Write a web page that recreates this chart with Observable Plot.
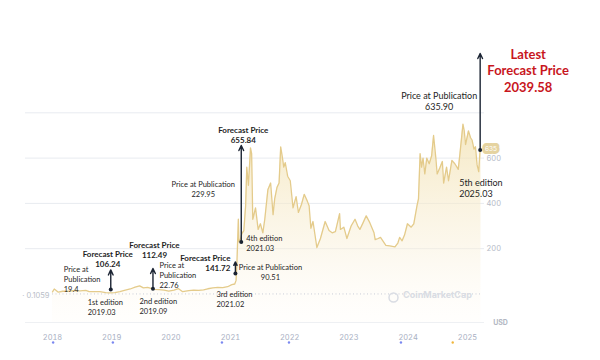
<!DOCTYPE html>
<html><head><meta charset="utf-8">
<script src="https://cdn.jsdelivr.net/npm/d3@7"></script>
<script src="https://cdn.jsdelivr.net/npm/@observablehq/plot@0.6"></script>
<style>body{margin:0;background:#fff}</style>
</head><body><div id="chart"></div>
<script>
// ---- price series ----
const priceDates = ["2018-01-01","2018-01-12","2018-02-06","2018-03-05","2018-04-15","2018-05-05","2018-06-20","2018-07-25","2018-08-15","2018-09-15","2018-10-20","2018-11-25","2018-12-15",
"2019-01-20","2019-02-20","2019-03-20","2019-04-25","2019-05-25","2019-06-22","2019-07-15","2019-08-10","2019-09-20","2019-10-20","2019-11-20","2019-12-18",
"2020-01-20","2020-02-15","2020-03-13","2020-04-20","2020-05-20","2020-06-20","2020-07-20","2020-08-15","2020-09-15","2020-10-15","2020-11-15","2020-12-15",
"2021-01-10","2021-01-28","2021-02-05","2021-02-10","2021-02-19","2021-02-23","2021-03-03","2021-03-12","2021-03-25","2021-04-05","2021-04-12","2021-04-22","2021-04-30","2021-05-05","2021-05-12","2021-05-19","2021-05-26","2021-06-05","2021-06-21","2021-07-05","2021-07-20","2021-08-01","2021-08-20","2021-09-06","2021-09-21","2021-10-01","2021-10-15","2021-10-28","2021-11-07","2021-11-16","2021-11-26","2021-12-05","2021-12-20",
"2022-01-05","2022-01-22","2022-02-10","2022-02-24","2022-03-15","2022-04-01","2022-04-20","2022-05-01","2022-05-12","2022-05-25","2022-06-18","2022-07-10","2022-08-08","2022-09-01","2022-09-20","2022-10-10","2022-11-05","2022-11-10","2022-12-01","2022-12-20",
"2023-01-15","2023-02-08","2023-02-25","2023-03-10","2023-03-30","2023-04-18","2023-05-10","2023-06-05","2023-06-12","2023-07-01","2023-07-15","2023-08-17","2023-09-10","2023-10-12","2023-10-30","2023-11-10","2023-11-25","2023-12-10","2023-12-28",
"2024-01-20","2024-02-05","2024-02-25","2024-03-05","2024-03-15","2024-03-24","2024-04-02","2024-04-13","2024-04-25","2024-05-10","2024-05-25","2024-06-06","2024-06-20","2024-06-28","2024-07-16","2024-07-30","2024-08-07","2024-08-25","2024-09-06","2024-09-27","2024-10-15","2024-10-28","2024-11-05","2024-11-17","2024-12-04","2024-12-12","2024-12-20",
"2025-01-07","2025-01-20","2025-01-29","2025-02-10","2025-02-19","2025-03-01","2025-03-11","2025-03-20","2025-03-25"];
const priceValues = [9,22,8,12,12,15,14,16,10,10,10,6,5,
6,10,16,22,30,36,27,29,20,19,17,13,
17,24,10,15,17,16,18,23,27,29,28,32,
41,44,60,130,330,230,240,265,280,390,560,480,580,645,620,330,350,380,285,310,270,330,460,490,350,420,470,490,650,610,560,580,520,
500,380,430,360,395,440,410,390,290,320,205,245,320,280,270,275,355,285,295,245,
300,330,300,285,315,345,315,270,240,245,250,215,212,208,225,250,235,260,310,
295,310,390,420,620,560,600,530,600,575,610,700,600,530,560,585,490,560,500,590,575,560,550,630,750,720,660,
720,690,680,640,650,570,540,640,635];
const minPrice = 0.1059;

// ---- report editions ----
const editionNames = ["1st edition","2nd edition","3rd edition","4th edition","5th edition"];
const editionCodes = ["2019.03","2019.09","2021.02","2021.03","2025.03"];
const editionDates = ["2018-12-26","2019-09-12","2021-02-01","2021-03-09","2025-03-20"];
const pubPrices = [19.4, 22.76, 90.51, 229.95, 635.90];
const pubLabels = ["19.4","22.76","90.51","229.95","635.90"];
const forecastPrices = [106.24, 112.49, 141.72, 655.84, 2039.58];
const forecastLabels = ["106.24","112.49","141.72","655.84","2039.58"];

// ---- axes ----
const yearTicks = ["2018","2019","2020","2021","2022","2023","2024","2025"];
const yTickValues = [200, 400, 600];
const gridValues = [200, 400, 600, 800];
const eventDates = ["2018-01-05","2019-01-08","2020-11-10","2021-12-28","2023-11-18","2024-10-02"];
const eventColors = ["#7b88f0","#7b88f0","#7b88f0","#7b88f0","#7b88f0","#f0b53a"];

const yFloor = -126, yCeil = 1062;

const prices = priceDates.map((d, i) => ({date: new Date(d), price: priceValues[i]}));
const editions = editionDates.map((d, i) => ({
  date: new Date(d), pub: pubPrices[i], fc: forecastPrices[i], top: Math.min(forecastPrices[i], yCeil),
  name: editionNames[i], code: editionCodes[i], pubLabel: pubLabels[i], fcLabel: forecastLabels[i]
}));
const last = prices[prices.length - 1];
const events = eventDates.map((d, i) => ({date: new Date(d), color: eventColors[i]}));

const ink = "#1e1e1e", arrowInk = "#1b2433";
const small = {fontFamily: "Lato", fontSize: 7.5, fill: ink, lineHeight: 1.33, lineAnchor: "middle"};
const bold = {fontFamily: "Lato", fontSize: 8, fontWeight: "bold", fill: ink, lineHeight: 1.3, lineAnchor: "middle"};

function lab(i, text, yField, dx, dy, base, extra = {}) {
  return Plot.text([editions[i]], {x: "date", y: yField, text: () => text, dx, dy, ...base, ...extra});
}
const e = editions;

const svg = Plot.plot({
  width: 600, height: 360,
  marginLeft: 25, marginRight: 116, marginTop: 20, marginBottom: 30,
  x: {type: "utc", domain: [new Date("2018-01-01"), new Date("2025-01-01")], range: [52, 467]},
  y: {domain: [yFloor, yCeil], range: [322, 53]},
  marks: [
    Plot.gridY(gridValues, {stroke: "#e8ebf0", strokeOpacity: 1}),
    Plot.ruleY([yFloor], {stroke: "#eef0f3"}),
    Plot.areaY(prices, {x: "date", y1: yFloor, y2: "price", fill: "url(#goldFill)", curve: "linear"}),
    Plot.ruleY([minPrice], {x1: prices[0].date, x2: last.date, stroke: "#c9ced8", strokeDasharray: "1,2.5"}),
    Plot.text([minPrice], {x: prices[0].date, y: d => d, text: d => "· " + d, textAnchor: "end", dx: -3, dy: 2, fill: "#b9bec8", fontSize: 7.5, fontFamily: "Inter"}),
    Plot.lineY(prices, {x: "date", y: "price", stroke: "#e4cb8b", strokeWidth: 1.3}),
    Plot.text(["CoinMarketCap"], {frameAnchor: "bottom-right", text: d => d, textAnchor: "middle", dx: -47, dy: -33, fill: "#d9dce3", fontSize: 9, fontWeight: "bold", fontFamily: "Inter"}),
    Plot.dot([0], {frameAnchor: "bottom-right", dx: -91, dy: -33, r: 4.5, stroke: "#d9dce3", strokeWidth: 1.5}),
    Plot.text(["USD"], {frameAnchor: "bottom-right", text: d => d, textAnchor: "middle", dx: 16, dy: -6, fill: "#b3b8c3", fontSize: 7, fontWeight: "bold", fontFamily: "Inter"}),
    Plot.axisX({ticks: yearTicks.map(y => new Date(y + "-01-01")), tickFormat: d3.utcFormat("%Y"), tickSize: 0, tickPadding: 4, fontSize: 7.5, fill: "#a9b0c3", fontFamily: "Inter", label: null}),
    Plot.axisY({anchor: "right", ticks: yTickValues, tickSize: 0, tickPadding: 2, fontSize: 7.5, fill: "#b5bac6", fontFamily: "Inter", label: null}),
    Plot.dot(events, {x: "date", frameAnchor: "bottom", dy: 12, r: 1.2, fill: "color"}),
    // price badge
    Plot.text([last], {x: "date", y: "price", text: d => d3.format(".0f")(d.price), dx: 10, dy: -1, fill: "white", stroke: "#e5d3a0", strokeWidth: 6, strokeLinejoin: "round", fontSize: 6.5, fontFamily: "Inter"}),
    // arrows
    Plot.arrow(editions, {x: "date", y1: "pub", y2: "top", stroke: arrowInk, strokeWidth: 1.4, headLength: 6, headAngle: 50}),
    Plot.dot(editions, {x: "date", y: "pub", r: 2, fill: arrowInk}),
    // edition 1
    lab(0, "Price at\nPublication\n" + e[0].pubLabel, "pub", -47, -11, small, {textAnchor: "start"}),
    lab(0, "Forecast Price\n" + e[0].fcLabel, "fc", -3, -11.4, bold),
    lab(0, e[0].name + "\n" + e[0].code, "pub", -23, 17.4, small, {textAnchor: "start"}),
    // edition 2
    lab(1, "Price at\nPublication\n" + e[1].pubLabel, "pub", 6.5, -14.3, small, {textAnchor: "start"}),
    lab(1, "Forecast Price\n" + e[1].fcLabel, "fc", 1.5, -19, bold),
    lab(1, e[1].name + "\n" + e[1].code, "pub", -13.5, 17.2, small, {textAnchor: "start"}),
    // edition 3
    lab(2, "Forecast Price\n" + e[2].fcLabel, "fc", -5, 1.1, bold, {textAnchor: "end"}),
    lab(2, "Price at Publication\n" + e[2].pubLabel, "pub", 35, -2, small),
    lab(2, e[2].name + "\n" + e[2].code, "pub", -19, 25.5, small, {textAnchor: "start"}),
    // edition 4
    lab(3, e[3].name + "\n" + e[3].code, "pub", 5, 0.6, small, {textAnchor: "start"}),
    lab(3, "Price at Publication\n" + e[3].pubLabel, "pub", -38, -53.4, small),
    lab(3, "Forecast Price\n" + e[3].fcLabel, "fc", 2, -10.5, bold),
    // edition 5
    lab(4, "Price at Publication\n" + e[4].pubLabel, "pub", -41, -49, small, {fontSize: 9, lineHeight: 1.22}),
    lab(4, e[4].name + "\n" + e[4].code, "pub", -21, 38, small, {textAnchor: "start", fontSize: 9, lineHeight: 1.22}),
    lab(4, "Latest\nForecast Price\n" + e[4].fcLabel, "top", 48, 16.5, bold, {fontSize: 13, lineHeight: 1.27, fill: "#c8161d"})
  ]
});

d3.select(svg).insert("defs", ":first-child").html(
  '<linearGradient id="goldFill" x1="0" y1="0" x2="0" y2="1">' +
  '<stop offset="0" stop-color="#f2e1b0" stop-opacity="0.75"/>' +
  '<stop offset="0.6" stop-color="#f8eed4" stop-opacity="0.45"/>' +
  '<stop offset="1" stop-color="#fffaf0" stop-opacity="0.15"/></linearGradient>');
document.getElementById("chart").appendChild(svg);
</script></body></html>
